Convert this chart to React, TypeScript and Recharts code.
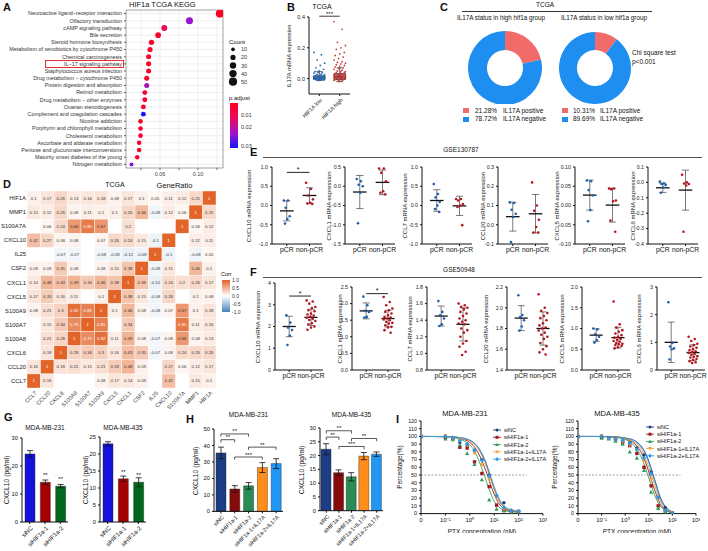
import React from "react";
import {
  ScatterChart, Scatter, ComposedChart, BarChart, Bar, Line, PieChart, Pie, Cell,
  XAxis, YAxis, CartesianGrid, ReferenceLine, ReferenceArea, ErrorBar, LabelList,
} from "recharts";

const FONT = "'Liberation Sans', Arial, Helvetica, sans-serif";

// ---------- A: KEGG enrichment ----------
const PATHWAYS = [
  "Neuroactive ligand\u2212receptor interaction", "Olfactory transduction", "cAMP signaling pathway",
  "Bile secretion", "Steroid hormone biosynthesis", "Metabolism of xenobiotics by cytochrome P450",
  "Chemical carcinogenesis", "IL\u221217 signaling pathway", "Staphylococcus aureus infection",
  "Drug metabolism \u2212 cytochrome P450", "Protein digestion and absorption", "Retinol metabolism",
  "Drug metabolism \u2212 other enzymes", "Ovarian steroidogenesis", "Complement and coagulation cascades",
  "Nicotine addiction", "Porphyrin and chlorophyll metabolism", "Cholesterol metabolism",
  "Ascorbate and aldarate metabolism", "Pentose and glucuronate interconversions",
  "Maturity onset diabetes of the young", "Nitrogen metabolism",
];
const GENE_RATIO = [0.123, 0.091, 0.0645, 0.058, 0.051, 0.0495, 0.048, 0.048, 0.048, 0.046, 0.046,
  0.044, 0.044, 0.0425, 0.0425, 0.0395, 0.0395, 0.0395, 0.038, 0.038, 0.036, 0.03];
const GENE_COUNT = [50, 37, 26, 24, 21, 20, 19, 19, 19, 19, 19, 18, 18, 17, 17, 16, 16, 16, 15, 15, 15, 12];
const P_ADJUST = [0.0005, 0.021, 0.008, 0.003, 0.002, 0.003, 0.002, 0.002, 0.002, 0.003, 0.019,
  0.003, 0.003, 0.003, 0.03, 0.002, 0.002, 0.004, 0.002, 0.002, 0.002, 0.022];
const COUNT_LEGEND = [10, 20, 30, 40, 50];

// ---------- B: IL17A by HIF1A group ----------
const B_GROUPS = ["HIF1A low", "HIF1A high"];
const B_LOW = [0.17, 0.155, 0.12, 0.1, 0.085, 0.07, 0.06, 0.05, 0.045, 0.04, 0.04, 0.035, 0.03, 0.028,
  0.025, 0.022, 0.02, 0.018, 0.015, 0.013, 0.012, 0.01, 0.009, 0.008, 0.007, 0.006, 0.005, 0.004, 0.003,
  0.002, 0.001, 0, -0.001, -0.002, -0.003, -0.004, -0.005, -0.006, -0.008, -0.01, -0.012];
const B_HIGH = [0.37, 0.32, 0.235, 0.215, 0.2, 0.19, 0.17, 0.16, 0.15, 0.14, 0.13, 0.12, 0.11, 0.105,
  0.1, 0.095, 0.09, 0.085, 0.08, 0.075, 0.07, 0.065, 0.06, 0.055, 0.05, 0.045, 0.045, 0.04, 0.04, 0.035,
  0.032, 0.03, 0.028, 0.025, 0.022, 0.02, 0.018, 0.016, 0.014, 0.012, 0.01, 0.009, 0.008, 0.006, 0.005,
  0.004, 0.003, 0.002, 0.001, 0, -0.002, -0.004, -0.006, -0.008, -0.01, -0.012, -0.015, -0.018];
// whisker low, q1, median, q3, whisker high
const B_LOW_BOX = [-0.012, -0.004, 0.004, 0.018, 0.045];
const B_HIGH_BOX = [-0.02, -0.006, 0.01, 0.032, 0.07];

// ---------- C: donuts ----------
const C_LABELS = ["IL17A positive", "IL17A negative"];
const C_HIGH = [21.28, 78.72];
const C_LOW = [10.31, 89.69];

// ---------- D: correlation heatmap ----------
const D_GENES = ["HIF1A", "MMP1", "S100A7A", "CXCL10", "IL25", "CSF2", "CXCL1", "CXCL5", "S100A9",
  "S100A7", "S100A8", "CXCL6", "CCL20", "CCL7"];
const D_COLS = [...D_GENES].reverse();
const D_CORR: (number | null)[][] = [
  [0.1, 0.17, 0.26, 0.13, 0.16, 0.18, 0.08, 0.17, 0.1, 0.05, 0.11, 0.12, 0.25, 1],
  [0.15, 0.12, 0.26, 0.08, 0.11, 0.1, 0.1, 0.26, 0.46, -0.08, 0.12, 0.06, 1, 0.25],
  [null, 0.06, 0.24, 0.66, 0.85, 0.67, null, 0.2, null, null, null, 1, 0.06, 0.12],
  [0.42, 0.27, 0.08, 0.08, null, 0.07, 0.26, 0.24, 0.15, -0.1, 1, null, 0.12, 0.11],
  [null, null, -0.07, -0.07, null, -0.08, -0.08, -0.12, -0.08, 1, -0.1, null, -0.08, 0.05],
  [0.09, 0.09, 0.35, 0.08, null, 0.08, 0.15, 0.38, 1, -0.08, 0.15, null, 0.46, 0.1],
  [0.14, 0.48, 0.43, 0.49, 0.34, 0.46, 0.38, 1, 0.38, -0.12, 0.24, 0.2, 0.26, 0.17],
  [0.17, 0.33, 0.16, 0.11, null, 0.1, 1, 0.38, 0.15, -0.08, 0.26, null, 0.1, 0.08],
  [0.08, 0.21, 0.3, 0.92, 0.81, 1, 0.1, 0.46, 0.08, -0.08, 0.07, 0.67, 0.1, 0.18],
  [null, 0.15, 0.34, 0.75, 1, 0.81, null, 0.34, null, null, null, 0.85, 0.11, 0.16],
  [null, 0.21, 0.28, 1, 0.75, 0.92, 0.11, 0.49, 0.08, -0.07, 0.08, 0.66, 0.08, 0.13],
  [null, 0.18, 1, 0.28, 0.34, 0.3, 0.16, 0.43, 0.35, -0.07, 0.08, 0.24, 0.26, 0.26],
  [0.16, 1, 0.18, 0.21, 0.15, 0.21, 0.33, 0.48, 0.09, null, 0.27, 0.06, 0.12, 0.17],
  [1, 0.16, null, null, null, 0.08, 0.17, 0.14, 0.09, null, 0.42, null, 0.15, 0.1],
];
const D_LEGEND = [1, 0.5, 0, -0.5, -1];

// ---------- E: GSE130787 ----------
const E_GENES = ["CXCL10", "CXCL1", "CCL7", "CCL20", "CXCL5", "CXCL6"];
const E_PCR = [
  [0.13, 0.13, -0.06, -0.28, -0.35, -0.47],
  [0.19, 0.13, 0.04, 0.0, -0.17, -0.96],
  [0.56, 0.3, 0.21, 0.09, 0, -0.09, -0.17],
  [0.116, 0.113, 0.078, 0.057, 0.04, -0.09],
  [0.065, 0.063, 0.04, 0.026, -0.012, -0.041],
  [0.005, -0.007, -0.01, -0.017, -0.033, -0.067],
];
const E_NON = [
  [0.59, 0.43, 0.26, 0.16, 0.07, 0.05, 0.04],
  [0.46, 0.46, 0.35, 0.13, -0.13, -0.17, -0.21],
  [0.17, 0.17, 0.13, 0.04, 0, -0.04, -0.51],
  [0.22, 0.1, 0.073, 0.026, -0.012, -0.04, -0.04],
  [0.044, 0.044, 0.042, 0.013, 0.011, -0.039, -0.068],
  [0.05, 0, -0.007, -0.01, -0.02, -0.32],
];
const E_MEAN = [[-0.14, 0.26], [-0.15, 0.1], [0.13, -0.01], [0.042, 0.057], [0.027, 0.001], [-0.035, -0.05]];
const E_SD = [[0.26, 0.2], [0.43, 0.32], [0.28, 0.25], [0.075, 0.1], [0.039, 0.044], [0.03, 0.13]];
const E_SIG = [0.86, null, null, null, null, null];
const E_TICKS = [[-1, -0.5, 0, 0.5, 1], [-1.5, -1, -0.5, 0, 0.5], [-1, -0.5, 0, 0.5, 1],
  [-0.1, 0, 0.1, 0.2, 0.3], [-0.1, -0.05, 0, 0.05, 0.1], [-0.4, -0.3, -0.2, -0.1, 0, 0.1]];
const E_DEC = [1, 1, 1, 1, 2, 1];

// ---------- F: GSE50948 ----------
const F_GENES = ["CXCL10", "CXCL1", "CCL7", "CCL20", "CXCL5", "CXCL6"];
const F_PCR = [
  [2.52, 2.18, 1.95, 1.84, 1.58, 1.15],
  [2.21, 1.95, 1.78, 1.75, 1.6, 1.58],
  [1.63, 1.5, 1.46, 1.42, 1.35, 1.33],
  [2.12, 1.93, 1.91, 1.88, 1.82, 1.78],
  [1.0, 0.98, 0.86, 0.8, 0.72, 0.66],
  [2.45, 0.98, 0.85, 0.78, 0.75, 0.38],
];
const F_NON = [
  [3.2, 3.15, 3.05, 2.9, 2.85, 2.75, 2.7, 2.6, 2.55, 2.5, 2.45, 2.4, 2.35, 2.3, 2.25, 2.15, 2.1, 2.0, 1.95, 1.85],
  [2.2, 2.05, 1.95, 1.85, 1.8, 1.75, 1.7, 1.65, 1.6, 1.58, 1.55, 1.52, 1.5, 1.45, 1.42, 1.4, 1.35, 1.3, 1.28, 1.2, 1.12],
  [1.6, 1.58, 1.56, 1.55, 1.53, 1.5, 1.48, 1.45, 1.42, 1.4, 1.38, 1.36, 1.35, 1.3, 1.28, 1.25, 1.2, 1.15, 1.12, 1.08, 1.02, 0.98],
  [2.13, 2.0, 1.97, 1.95, 1.92, 1.9, 1.88, 1.85, 1.83, 1.81, 1.8, 1.78, 1.76, 1.74, 1.72, 1.7, 1.66, 1.63, 1.6, 1.57, 1.55],
  [1.65, 1.1, 1.02, 0.96, 0.92, 0.88, 0.84, 0.8, 0.78, 0.75, 0.72, 0.7, 0.68, 0.65, 0.63, 0.62, 0.6, 0.58, 0.55, 0.52],
  [1.2, 1.12, 1.05, 0.95, 0.9, 0.85, 0.8, 0.75, 0.72, 0.68, 0.65, 0.62, 0.58, 0.55, 0.5, 0.48, 0.45, 0.4, 0.36, 0.32, 0.28, 0.25],
];
const F_MEAN = [[2.0, 2.42], [1.78, 1.55], [1.45, 1.35], [1.9, 1.8], [0.84, 0.78], [1.0, 0.63]];
const F_SD = [[0.47, 0.37], [0.24, 0.25], [0.12, 0.2], [0.12, 0.16], [0.15, 0.25], [0.73, 0.28]];
const F_SIG = [3.4, 2.3, null, null, null, null];
const F_TICKS = [[0, 1, 2, 3, 4], [0, 0.5, 1, 1.5, 2, 2.5], [0.8, 1, 1.2, 1.4, 1.6, 1.8],
  [1.4, 1.6, 1.8, 2, 2.2], [0, 0.5, 1, 1.5, 2], [0, 1, 2, 3]];
const F_DEC = [0, 1, 1, 1, 1, 0];

// ---------- G / H: ELISA ----------
const G_CATS = ["siNC", "siHIF1a-1", "siHIF1a-2"];
const G_231 = [24.3, 14.2, 12.8];
const G_231_SD = [1.2, 0.8, 0.6];
const G_435 = [23, 12.7, 11.7];
const G_435_SD = [0.6, 0.8, 1.3];
const G_SIG = ["", "**", "**"];
const H_CATS = ["siNC", "siHIF1a-1", "siHIF1a-2", "siHIF1a-1+IL17A", "siHIF1a-2+IL17A"];
const H_231 = [35.5, 13.6, 15.5, 26.6, 29];
const H_231_SD = [3.5, 2, 2, 3, 3];
const H_435 = [22.3, 13.8, 12.3, 19.8, 20.5];
const H_435_SD = [2, 1, 1.5, 1.3, 0.8];
// [from, to, y, label]
const H_231_SIG: [number, number, number, string][] = [[0, 2, 47, "**"], [0, 1, 43.5, "**"], [2, 4, 39, "**"], [1, 3, 33, "***"]];
const H_435_SIG: [number, number, number, string][] = [[0, 2, 29, "**"], [0, 1, 26.7, "**"], [2, 4, 26.2, "**"], [1, 3, 23.3, "***"]];

// ---------- I: PTX dose response ----------
const I_SERIES = ["siNC", "siHIF1a-1", "siHIF1a-2", "siHIF1a-1+IL17A", "siHIF1a-2+IL17A"];
const I_CONC = [0.01, 0.1, 0.2, 0.39, 0.78, 1.56, 3.13, 6.25, 12.5, 25, 50, 100];
const I_FIT_CONC = [0.01, 0.1, 0.3, 0.6, 1, 1.5, 2, 3, 4, 5, 7, 10, 15, 20, 30, 50, 100];
const I_231_PTS = [
  [100, 98, 97, 92, 89, 82, 70, 50, 23, 14, 4, 3],
  [100, 99, 97, 86, 85, 67, 52, 35, 11, 4, 3, 2],
  [100, 97, 96, 89, 78, 64, 44, 18, 6, 4, 2, 2],
  [100, 101, 97, 96, 89, 78, 63, 44, 21, 6, 3, 3],
  [100, 100, 98, 95, 90, 82, 69, 49, 23, 8, 4, 3],
];
const I_231_FIT = [
  [100, 99.9, 99, 97.5, 95, 91.5, 87.5, 78, 70, 62, 47, 32, 19, 12, 7, 4, 2.5],
  [100, 99.8, 98.5, 96, 92, 87, 81, 70, 60, 52, 38, 25, 14, 9, 5, 3, 2],
  [100, 99.5, 97.5, 94, 89, 82, 74, 60, 49, 40, 27, 16, 9, 6, 3.5, 2.5, 2],
  [100, 99.8, 98.8, 97, 94, 90, 85.5, 76, 67, 59, 45, 31, 18, 12, 7, 4, 3],
  [100, 99.8, 99, 97.5, 95, 91.5, 87.5, 79, 71, 63, 49, 35, 21, 14, 8, 5, 3],
];
const I_435_PTS = [
  [100, 99, 98, 97, 94, 92, 85, 76, 54, 21, 8, 1],
  [100, 99, 98, 96, 92, 88, 78, 60, 36, 10, 3, 1],
  [100, 98, 97, 94, 90, 80, 72, 56, 28, 7, 2, 0],
  [100, 101, 97, 96, 93, 89, 82, 68, 44, 19, 3, 1],
  [100, 100, 98, 96, 95, 91, 83, 72, 52, 21, 4, 1],
];
const I_435_FIT = [
  [100, 100, 99.5, 99, 98, 97, 96, 93, 90, 86.5, 79.5, 68, 51, 39, 22, 9, 2.5],
  [100, 99.9, 99.3, 98.5, 97, 95, 93, 88, 83, 78, 68, 54, 37, 26, 13, 5, 1.5],
  [100, 99.8, 99, 97.8, 96, 93.5, 90.5, 84, 78, 72, 60, 46, 30, 20, 10, 4, 1],
  [100, 99.9, 99.4, 98.7, 97.5, 96, 94, 90.5, 86.5, 82, 73, 60, 44, 32, 17, 7, 2],
  [100, 100, 99.5, 99, 98, 96.8, 95.3, 92.3, 89, 85, 78, 66, 49, 37, 20, 8, 2],
];

// ---------- styling helpers ----------
const BLUE_PT = "#1f5fae";
const RED_PT = "#b3181f";
const G_COLORS = ["#1212dc", "#a80000", "#00681f"];
const H_COLORS = ["#1c3d86", "#870b0b", "#2a8c55", "#ff8d1c", "#2196f3"];
const I_COLORS = ["#1c3f7c", "#9b1c1c", "#2e9e5b", "#f7a13a", "#2f97e8"];
const PIE_COLORS = ["#f26b6b", "#1e8ff0"];

const jit = (i: number, w: number) => ((((i * 7) % 11) - 5) / 5) * w;
const countR = (n: number) => Math.sqrt(n) * 0.58;
const mix = (a: number[], b: number[], t: number) =>
  `rgb(${a.map((v, k) => Math.round(v + (b[k] - v) * t)).join(",")})`;
function padjColor(p: number) {
  const t = Math.max(0, Math.min(1, p / 0.03));
  const stops: [number, number[]][] = [[0, [255, 0, 30]], [0.35, [232, 10, 100]], [0.7, [150, 20, 210]], [1, [20, 20, 255]]];
  for (let k = 0; k < stops.length - 1; k++) {
    const [t0, c0] = stops[k];
    const [t1, c1] = stops[k + 1];
    if (t <= t1) return mix(c0, c1, (t - t0) / (t1 - t0));
  }
  return "rgb(20,20,255)";
}
const corrColor = (v: number) =>
  v >= 0 ? mix([255, 255, 255], [226, 100, 40], v) : mix([255, 255, 255], [70, 130, 190], -v);

// tick renderer that never wraps text
const mkTick = (fmt: (v: any) => string, fs: number, kind: "y" | "x" | "rot", fill = "#222") => (p: any) => {
  const { x, y, payload } = p;
  const label = fmt(payload.value);
  if (kind === "y") return <text x={x} y={y} dy="0.35em" textAnchor="end" fontSize={fs} fill={fill}>{label}</text>;
  if (kind === "x") return <text x={x} y={y} dy="0.75em" textAnchor="middle" fontSize={fs} fill={fill}>{label}</text>;
  return <text x={x + 1} y={y} dy="0.6em" textAnchor="end" fontSize={fs} fill={fill} transform={`rotate(-45 ${x + 1} ${y})`}>{label}</text>;
};

const Txt = ({ x, y, s = 6.5, a = "start", w = 400, c = "#111", children }: any) => {
  const tx = a === "middle" ? "-50%" : a === "end" ? "-100%" : "0";
  return (
    <div style={{
      position: "absolute", left: x, top: y, fontSize: s, fontWeight: w, color: c, whiteSpace: "nowrap",
      lineHeight: 1, transform: `translate(${tx}, -50%)`,
    }}>{children}</div>
  );
};
const VLabel = ({ x, y, s = 6, children }: any) => (
  <div style={{
    position: "absolute", left: x, top: y, fontSize: s, whiteSpace: "nowrap", lineHeight: 1,
    transform: "translate(-50%, -50%) rotate(-90deg)", color: "#111",
  }}>{children}</div>
);
const Letter = ({ x, y, children }: any) => <Txt x={x} y={y} s={11} w={700}>{children}</Txt>;
const Abs = ({ x, y, children }: any) => <div style={{ position: "absolute", left: x, top: y }}>{children}</div>;

// ---------- Panels ----------
function PanelA() {
  const data = PATHWAYS.map((name, i) => ({ x: GENE_RATIO[i], y: i, count: GENE_COUNT[i], padj: P_ADJUST[i] }));
  return (
    <>
      <Letter x={3} y={7}>A</Letter>
      <Txt x={129} y={5} s={7.5}>HIF1a TCGA KEGG</Txt>
      <Abs x={0} y={0}>
        <ScatterChart width={226} height={190} margin={{ top: 10, right: 3, bottom: 0, left: 0 }}>
          <CartesianGrid stroke="#e4e4e4" strokeWidth={0.6} />
          <XAxis type="number" dataKey="x" domain={[0.0242, 0.1263]} allowDataOverflow
            ticks={[0.04, 0.06, 0.08, 0.1, 0.12]} interval={0}
            tick={mkTick((v: number) => (v === 0.06 || v === 0.1 ? v.toFixed(2) : ""), 5.5, "x", "#444")}
            tickSize={2} axisLine={false} height={22}
            label={{ value: "GeneRatio", position: "insideBottom", offset: 2, fontSize: 7.5, fill: "#111" }} />
          <YAxis type="number" dataKey="y" domain={[-0.5, 21.5]} allowDataOverflow reversed
            ticks={PATHWAYS.map((_, i) => i)} interval={0}
            tick={mkTick((i: number) => PATHWAYS[i] ?? "", 5.4, "y", "#333")}
            tickSize={2} axisLine={false} width={126} />
          <ReferenceArea x1={0.0242} x2={0.1263} y1={-0.5} y2={21.5} fill="none" stroke="#777"
            strokeWidth={0.6} ifOverflow="visible" />
          <Scatter data={data} dataKey="y" isAnimationActive={false}
            shape={(p: any) => <circle cx={p.cx} cy={p.cy} r={countR(p.payload.count)} fill={padjColor(p.payload.padj)} />} />
        </ScatterChart>
      </Abs>
      <div style={{ position: "absolute", left: 45, top: 60, width: 79, height: 8, border: "1px solid #e53030", boxSizing: "border-box" }} />
      <Txt x={229} y={42} s={6}>Count</Txt>
      <svg style={{ position: "absolute", left: 226, top: 44 }} width={30} height={42}>
        {COUNT_LEGEND.map((n, k) => (
          <g key={n}>
            <circle cx={7} cy={5.3 + k * 8.1} r={countR(n)} fill="#111" />
            <text x={15} y={7.3 + k * 8.1} fontSize={5.5} fill="#333">{n}</text>
          </g>
        ))}
      </svg>
      <Txt x={229} y={98} s={6}>p.adjust</Txt>
      <svg style={{ position: "absolute", left: 229, top: 102 }} width={28} height={50}>
        <defs>
          <linearGradient id="padj" x1="0" y1="0" x2="0" y2="1">
            <stop offset="0" stopColor={padjColor(0)} />
            <stop offset="0.35" stopColor={padjColor(0.0105)} />
            <stop offset="0.7" stopColor={padjColor(0.021)} />
            <stop offset="1" stopColor={padjColor(0.03)} />
          </linearGradient>
        </defs>
        <rect x={1} y={1} width={8} height={45} fill="url(#padj)" />
        {[0.01, 0.02, 0.03].map((v, k) => (
          <text key={v} x={12} y={[15, 27, 46][k]} fontSize={5.5} fill="#333">{v.toFixed(2)}</text>
        ))}
      </svg>
    </>
  );
}

function PanelB() {
  const low = B_LOW.map((v, i) => ({ x: 1 + jit(i, 0.26), y: v }));
  const high = B_HIGH.map((v, i) => ({ x: 2 + jit(i, 0.28), y: v }));
  const box = (g: number, b: number[], fill: string) => [
    <ReferenceLine key={`w${g}`} segment={[{ x: g, y: b[0] }, { x: g, y: b[4] }]} stroke="#111" strokeWidth={0.7} ifOverflow="visible" />,
    <ReferenceLine key={`c1${g}`} segment={[{ x: g - 0.15, y: b[0] }, { x: g + 0.15, y: b[0] }]} stroke="#111" strokeWidth={0.7} ifOverflow="visible" />,
    <ReferenceLine key={`c2${g}`} segment={[{ x: g - 0.15, y: b[4] }, { x: g + 0.15, y: b[4] }]} stroke="#111" strokeWidth={0.7} ifOverflow="visible" />,
    <ReferenceArea key={`b${g}`} x1={g - 0.28} x2={g + 0.28} y1={b[1]} y2={b[3]} fill={fill} fillOpacity={0.75} stroke="#111" strokeWidth={0.7} ifOverflow="visible" />,
    <ReferenceLine key={`m${g}`} segment={[{ x: g - 0.28, y: b[2] }, { x: g + 0.28, y: b[2] }]} stroke="#111" strokeWidth={1} ifOverflow="visible" />,
  ];
  return (
    <>
      <Letter x={287} y={7}>B</Letter>
      <Txt x={322} y={6} s={7} a="middle">TCGA</Txt>
      <VLabel x={290} y={56} s={5.8}>IL17A mRNA expression</VLabel>
      <Abs x={280} y={0}>
        <ComposedChart width={72} height={130} margin={{ top: 17, right: 2, bottom: 0, left: 0 }}>
          <XAxis type="number" dataKey="x" domain={[0.5, 2.5]} allowDataOverflow ticks={[1, 2]} interval={0}
            tick={mkTick((v: number) => B_GROUPS[v - 1] ?? "", 5.5, "rot")} tickSize={2} height={36} stroke="#111" />
          <YAxis type="number" dataKey="y" domain={[-0.1, 0.4]} allowDataOverflow
            ticks={[-0.1, 0, 0.1, 0.2, 0.3, 0.4]} tick={mkTick((v: number) => v.toFixed(1), 5.5, "y")}
            tickSize={2} width={29} stroke="#111" />
          <Scatter data={low} dataKey="y" isAnimationActive={false}
            shape={(p: any) => <circle cx={p.cx} cy={p.cy} r={0.9} fill="#2b6cb5" />} />
          <Scatter data={high} dataKey="y" isAnimationActive={false}
            shape={(p: any) => <circle cx={p.cx} cy={p.cy} r={0.9} fill="#c8403f" />} />
          {box(1, B_LOW_BOX, "#24589c")}
          {box(2, B_HIGH_BOX, "#b9342f")}
          <ReferenceLine segment={[{ x: 1, y: 0.405 }, { x: 2, y: 0.405 }]} stroke="#111" strokeWidth={0.8}
            ifOverflow="visible" label={{ value: "***", position: "top", offset: 0.5, fontSize: 6, fill: "#111" }} />
        </ComposedChart>
      </Abs>
    </>
  );
}

function PanelC() {
  const hi = C_LABELS.map((n, i) => ({ name: n, value: C_HIGH[i] }));
  const lo = C_LABELS.map((n, i) => ({ name: n, value: C_LOW[i] }));
  return (
    <>
      <Letter x={440} y={7}>C</Letter>
      <Txt x={545} y={5} s={6.5} a="middle">TCGA</Txt>
      <div style={{ position: "absolute", left: 462, top: 11, width: 190, height: 0, borderTop: "1px solid #333" }} />
      <Txt x={501} y={18} s={6.3} a="middle">IL17A status in high hif1a group</Txt>
      <Txt x={604} y={18} s={6.3} a="middle">IL17A status in low hif1a group</Txt>
      <Abs x={460} y={24}>
        <PieChart width={180} height={80}>
          <Pie data={hi} dataKey="value" cx={40} cy={39} innerRadius={18} outerRadius={37} startAngle={90}
            endAngle={-270} stroke="none" isAnimationActive={false}>
            {hi.map((_, i) => <Cell key={i} fill={PIE_COLORS[i]} />)}
          </Pie>
          <Pie data={lo} dataKey="value" cx={130} cy={39} innerRadius={18} outerRadius={36} startAngle={90}
            endAngle={-270} stroke="none" isAnimationActive={false}>
            {lo.map((_, i) => <Cell key={i} fill={PIE_COLORS[i]} />)}
          </Pie>
        </PieChart>
      </Abs>
      <Txt x={632} y={53} s={6.5}>Chi square test</Txt>
      <Txt x={632} y={62} s={6.5}>p&lt;0.001</Txt>
      {[C_HIGH, C_LOW].map((vals, col) =>
        vals.map((v, i) => (
          <React.Fragment key={`${col}-${i}`}>
            <div style={{ position: "absolute", left: col ? 562 : 463, top: 108 + i * 8.5, width: 6, height: 5, background: PIE_COLORS[i] }} />
            <Txt x={col ? 573 : 475} y={110.5 + i * 8.5} s={6.5}>{v.toFixed(2)}%</Txt>
            <Txt x={col ? 600 : 503} y={110.5 + i * 8.5} s={6.5}>{C_LABELS[i]}</Txt>
          </React.Fragment>
        ))
      )}
    </>
  );
}

function PanelD() {
  const cw = 189 / 14, ch = 197 / 14;
  const cells: any[] = [];
  D_CORR.forEach((row, i) => row.forEach((v, j) => { if (v !== null) cells.push({ x: j, y: i, v }); }));
  return (
    <>
      <Letter x={3} y={184}>D</Letter>
      <Txt x={115} y={184} s={7} a="middle">TCGA</Txt>
      <Abs x={0} y={181}>
        <ScatterChart width={216} height={229} margin={{ top: 10, right: 0, bottom: 0, left: 0 }}>
          <XAxis type="number" dataKey="x" domain={[-0.5, 13.5]} allowDataOverflow ticks={D_COLS.map((_, i) => i)}
            interval={0} tick={mkTick((i: number) => D_COLS[i] ?? "", 5.5, "rot", "#333")}
            tickSize={1} axisLine={false} tickLine={false} height={22} />
          <YAxis type="number" dataKey="y" domain={[-0.5, 13.5]} allowDataOverflow reversed
            ticks={D_GENES.map((_, i) => i)} interval={0} tick={mkTick((i: number) => D_GENES[i] ?? "", 5.9, "y")}
            tickSize={1} tickMargin={0} axisLine={false} tickLine={false} width={27} />
          <Scatter data={cells} dataKey="y" isAnimationActive={false}
            shape={(p: any) => {
              const v = p.payload.v;
              return (
                <g>
                  <rect x={p.cx - cw / 2} y={p.cy - ch / 2} width={cw} height={ch} fill={corrColor(v)} stroke="#fff" strokeWidth={0.4} />
                  <text x={p.cx} y={p.cy + 1.5} textAnchor="middle" fontSize={4.3} fill={v >= 0.7 ? "#fff" : "#333"}>{String(v)}</text>
                </g>
              );
            }} />
        </ScatterChart>
      </Abs>
      <Txt x={221} y={275} s={5.5}>Corr</Txt>
      <svg style={{ position: "absolute", left: 221, top: 278 }} width={26} height={38}>
        <defs>
          <linearGradient id="corr" x1="0" y1="0" x2="0" y2="1">
            <stop offset="0" stopColor={corrColor(1)} />
            <stop offset="0.5" stopColor="#fff" />
            <stop offset="1" stopColor={corrColor(-1)} />
          </linearGradient>
        </defs>
        <rect x={1} y={2} width={8} height={32} fill="url(#corr)" />
        {D_LEGEND.map((v, k) => (
          <text key={v} x={11} y={4 + k * 8} fontSize={5} fill="#333">{v.toFixed(1)}</text>
        ))}
      </svg>
    </>
  );
}

function DotPanel({ axisX, top, plotH, plotW, gene, a, b, mean, sd, sig, ticks, dec, labelOff }: any) {
  const YW = 26, XH = 14;
  const ptsA = a.map((v: number, i: number) => ({ x: 1 + jit(i, 0.13), y: v }));
  const ptsB = b.map((v: number, i: number) => ({ x: 2 + jit(i, b.length > 10 ? 0.2 : 0.15), y: v }));
  const domain = [ticks[0], ticks[ticks.length - 1]];
  const msd = (g: number, m: number, s: number) => [
    <ReferenceLine key={`s${g}`} segment={[{ x: g, y: m - s }, { x: g, y: m + s }]} stroke="#444" strokeWidth={0.7} ifOverflow="visible" />,
    <ReferenceLine key={`t${g}`} segment={[{ x: g - 0.16, y: m + s }, { x: g + 0.16, y: m + s }]} stroke="#444" strokeWidth={0.7} ifOverflow="visible" />,
    <ReferenceLine key={`b${g}`} segment={[{ x: g - 0.16, y: m - s }, { x: g + 0.16, y: m - s }]} stroke="#444" strokeWidth={0.7} ifOverflow="visible" />,
    <ReferenceLine key={`m${g}`} segment={[{ x: g - 0.3, y: m }, { x: g + 0.3, y: m }]} stroke="#111" strokeWidth={1.3} ifOverflow="visible" />,
  ];
  return (
    <>
      <VLabel x={axisX - labelOff} y={top + plotH / 2} s={6}>{gene} mRNA expression</VLabel>
      <Abs x={axisX - YW} y={top - 7}>
        <ComposedChart width={YW + plotW + 3} height={7 + plotH + XH} margin={{ top: 7, right: 3, bottom: 0, left: 0 }}>
          <XAxis type="number" dataKey="x" domain={[0.35, 2.55]} allowDataOverflow ticks={[1, 2]} interval={0}
            tick={mkTick((v: number) => (v === 1 ? "pCR" : "non-pCR"), 6.8, "x", "#111")}
            tickSize={2} tickMargin={1} height={XH} stroke="#111" />
          <YAxis type="number" dataKey="y" domain={domain} allowDataOverflow ticks={ticks} interval={0}
            tick={mkTick((v: number) => v.toFixed(dec), 5.3, "y")} tickSize={2} width={YW} stroke="#111" />
          <Scatter data={ptsA} dataKey="y" isAnimationActive={false}
            shape={(p: any) => <circle cx={p.cx} cy={p.cy} r={1.3} fill={BLUE_PT} />} />
          <Scatter data={ptsB} dataKey="y" isAnimationActive={false}
            shape={(p: any) => <circle cx={p.cx} cy={p.cy} r={1.3} fill={RED_PT} />} />
          {msd(1, mean[0], sd[0])}
          {msd(2, mean[1], sd[1])}
          {sig !== null && (
            <ReferenceLine segment={[{ x: 1, y: sig }, { x: 2, y: sig }]} stroke="#111" strokeWidth={0.9}
              ifOverflow="visible" label={{ value: "*", position: "top", offset: 0.5, fontSize: 7, fill: "#111" }} />
          )}
        </ComposedChart>
      </Abs>
    </>
  );
}

function PanelsEF() {
  const eX = [272, 345, 422, 498, 575, 648];
  const fX = [275, 352, 427, 507, 582, 657];
  const eLab = [23, 16, 17, 15, 18, 15];
  const fLab = [17, 12, 17, 21, 20, 18];
  return (
    <>
      <Letter x={250} y={152}>E</Letter>
      <Txt x={461} y={150} s={6.5} a="middle">GSE130787</Txt>
      <div style={{ position: "absolute", left: 263, top: 157, width: 439, height: 0, borderTop: "1px solid #555" }} />
      {E_GENES.map((g, k) => (
        <DotPanel key={`e${k}`} axisX={eX[k]} top={167} plotH={77} plotW={50} gene={g} a={E_PCR[k]} b={E_NON[k]}
          mean={E_MEAN[k]} sd={E_SD[k]} sig={E_SIG[k]} ticks={E_TICKS[k]} dec={E_DEC[k]} labelOff={eLab[k]} />
      ))}
      <Letter x={250} y={272}>F</Letter>
      <Txt x={459} y={270} s={6.5} a="middle">GSE50948</Txt>
      <div style={{ position: "absolute", left: 263, top: 277, width: 439, height: 0, borderTop: "1px solid #555" }} />
      {F_GENES.map((g, k) => (
        <DotPanel key={`f${k}`} axisX={fX[k]} top={k === 0 ? 283 : 287} plotH={k === 0 ? 87 : 83} plotW={48}
          gene={g} a={F_PCR[k]} b={F_NON[k]} mean={F_MEAN[k]} sd={F_SD[k]} sig={F_SIG[k]} ticks={F_TICKS[k]}
          dec={F_DEC[k]} labelOff={fLab[k]} />
      ))}
    </>
  );
}

function BarPanel({ axisX, top, plotH, plotW, xh, cats, vals, sds, colors, sigs, brackets, leg, ticks, title, titleY, labelX, fs }: any) {
  const YW = 24;
  const data = cats.map((c: string, i: number) => ({ name: c, v: vals[i], e: sds[i], s: sigs ? sigs[i] : "" }));
  return (
    <>
      <Txt x={axisX + plotW / 2} y={titleY} s={6.5} a="middle">{title}</Txt>
      <VLabel x={labelX} y={top + plotH / 2} s={6.8}>CXCL10 (pg/ml)</VLabel>
      <Abs x={axisX - YW} y={top - 8}>
        <BarChart data={data} width={YW + plotW + 2} height={8 + plotH + xh} margin={{ top: 8, right: 2, bottom: 0, left: 0 }}
          barCategoryGap="28%">
          <XAxis dataKey="name" interval={0} tick={mkTick((v: string) => v, fs, "rot", "#111")}
            tickSize={2} height={xh} stroke="#111" />
          <YAxis type="number" domain={[ticks[0], ticks[ticks.length - 1]]} allowDataOverflow ticks={ticks} interval={0}
            tick={mkTick((v: number) => String(v), 5.8, "y", "#111")} tickSize={2} width={YW} stroke="#111" />
          <Bar dataKey="v" barSize={10} isAnimationActive={false} stroke="#222" strokeWidth={0.4}>
            {data.map((_: any, i: number) => <Cell key={i} fill={colors[i]} />)}
            <ErrorBar dataKey="e" width={3} stroke="#111" strokeWidth={0.8} direction="y" />
            {sigs && <LabelList dataKey="s" position="top" offset={5} fontSize={6} fill="#111" />}
          </Bar>
          {(brackets || []).map(([f, t, y, lab]: any, k: number) => [
            <ReferenceLine key={`h${k}`} segment={[{ x: cats[f], y }, { x: cats[t], y }]} stroke="#111" strokeWidth={0.7}
              ifOverflow="visible" label={{ value: lab, position: "top", offset: 0.5, fontSize: 6, fill: "#111" }} />,
            <ReferenceLine key={`l${k}`} segment={[{ x: cats[f], y }, { x: cats[f], y: y - leg }]} stroke="#111" strokeWidth={0.7} ifOverflow="visible" />,
            <ReferenceLine key={`r${k}`} segment={[{ x: cats[t], y }, { x: cats[t], y: y - leg }]} stroke="#111" strokeWidth={0.7} ifOverflow="visible" />,
          ])}
        </BarChart>
      </Abs>
    </>
  );
}

const Marker = ({ kind, cx, cy, color, s = 1.7 }: any) => {
  if (cx == null || cy == null) return null;
  if (kind === 0) return <circle cx={cx} cy={cy} r={s} fill={color} />;
  if (kind === 1) return <rect x={cx - s} y={cy - s} width={2 * s} height={2 * s} fill={color} />;
  if (kind === 2) return <polygon points={`${cx},${cy - s * 1.3} ${cx - s * 1.2},${cy + s} ${cx + s * 1.2},${cy + s}`} fill={color} />;
  if (kind === 3) return <polygon points={`${cx},${cy + s * 1.3} ${cx - s * 1.2},${cy - s} ${cx + s * 1.2},${cy - s}`} fill={color} />;
  return <polygon points={`${cx},${cy - s * 1.4} ${cx + s * 1.2},${cy} ${cx},${cy + s * 1.4} ${cx - s * 1.2},${cy}`} fill={color} />;
};

const LOG_LABELS: Record<string, string> = { "0.01": "0", "0.1": "10\u207B\u00B9", "1": "10\u2070", "10": "10\u00B9", "100": "10\u00B2", "1000": "10\u00B3" };

function DosePanel({ axisX, plotW, title, titleOff, pts, fit, legX, legY, legStep, labelOff }: any) {
  const top = 420.7, plotH = 92.6, YW = 28, XH = 20;
  return (
    <>
      <Txt x={axisX + titleOff} y={414} s={7.5} a="middle">{title}</Txt>
      <VLabel x={axisX - labelOff} y={top + plotH / 2} s={6.5}>Percentage(%)</VLabel>
      <Abs x={axisX - YW} y={top - 8}>
        <ComposedChart width={YW + plotW + 4} height={8 + plotH + XH} margin={{ top: 8, right: 4, bottom: 0, left: 0 }}>
          <XAxis type="number" dataKey="x" scale="log" domain={[0.01, 1000]} allowDataOverflow
            ticks={[0.01, 0.1, 1, 10, 100, 1000]} interval={0}
            tick={mkTick((v: number) => LOG_LABELS[String(v)] ?? "", 6, "x", "#111")}
            tickSize={2} height={XH} stroke="#111"
            label={{ value: "PTX concentration (nM)", position: "insideBottom", offset: 0, fontSize: 6.5, fill: "#111" }} />
          <YAxis type="number" dataKey="y" domain={[0, 120]} allowDataOverflow
            ticks={[0, 10, 20, 30, 40, 50, 60, 70, 80, 90, 100, 110, 120]} interval={0}
            tick={mkTick((v: number) => String(v), 5.3, "y", "#111")} tickSize={2} width={YW} stroke="#111" />
          <ReferenceLine segment={[{ x: 0.01, y: 50 }, { x: 220, y: 50 }]} stroke="#777" strokeWidth={0.7}
            strokeDasharray="2 1.5" ifOverflow="visible" />
          {I_SERIES.map((s, k) => (
            <Line key={`l${s}`} data={I_FIT_CONC.map((c, j) => ({ x: c, y: fit[k][j] }))} dataKey="y" type="monotone"
              stroke={I_COLORS[k]} strokeWidth={0.9} dot={false} isAnimationActive={false} />
          ))}
          {I_SERIES.map((s, k) => (
            <Scatter key={`p${s}`} data={I_CONC.map((c, j) => ({ x: c, y: pts[k][j] }))} dataKey="y" isAnimationActive={false}
              shape={(p: any) => <Marker kind={k} cx={p.cx} cy={p.cy} color={I_COLORS[k]} />} />
          ))}
        </ComposedChart>
      </Abs>
      <svg style={{ position: "absolute", left: legX, top: legY }} width={70} height={42}>
        {I_SERIES.map((s, k) => (
          <g key={s}>
            <line x1={0} x2={8} y1={3 + k * legStep} y2={3 + k * legStep} stroke={I_COLORS[k]} strokeWidth={0.9} />
            <Marker kind={k} cx={4} cy={3 + k * legStep} color={I_COLORS[k]} s={1.5} />
            <text x={11} y={5 + k * legStep} fontSize={5.6} fill="#111">{s}</text>
          </g>
        ))}
      </svg>
    </>
  );
}

export default function App() {
  return (
    <div style={{ position: "absolute", left: 0, top: 0, width: 708, height: 551, overflow: "hidden", background: "#fff", fontFamily: FONT, color: "#111" }}>
      <PanelA />
      <PanelB />
      <PanelC />
      <PanelD />
      <PanelsEF />
      <Letter x={4} y={417}>G</Letter>
      <BarPanel axisX={22} top={438.3} plotH={84} plotW={46} xh={30} cats={G_CATS} vals={G_231} sds={G_231_SD}
        colors={G_COLORS} sigs={G_SIG} ticks={[0, 10, 20, 30]} title="MDA-MB-231" titleY={428} labelX={7} fs={6} />
      <BarPanel axisX={100} top={437.3} plotH={85} plotW={46} xh={30} cats={G_CATS} vals={G_435} sds={G_435_SD}
        colors={G_COLORS} sigs={G_SIG} ticks={[0, 5, 10, 15, 20, 25]} title="MDA-MB-435" titleY={428} labelX={86} fs={6} />
      <Letter x={186} y={419}>H</Letter>
      <BarPanel axisX={214} top={429.3} plotH={82.4} plotW={69} xh={40} cats={H_CATS} vals={H_231} sds={H_231_SD}
        colors={H_COLORS} brackets={H_231_SIG} leg={1.6} ticks={[0, 10, 20, 30, 40, 50]} title="MDA-MB-231"
        titleY={415} labelX={196} fs={5.5} />
      <BarPanel axisX={320} top={428.3} plotH={82.7} plotW={63} xh={40} cats={H_CATS} vals={H_435} sds={H_435_SD}
        colors={H_COLORS} brackets={H_435_SIG} leg={1} ticks={[0, 5, 10, 15, 20, 25, 30]} title="MDA-MB-435"
        titleY={415} labelX={302} fs={5.5} />
      <Letter x={396} y={419}>I</Letter>
      <DosePanel axisX={421} plotW={122} title="MDA-MB-231" titleOff={44} pts={I_231_PTS} fit={I_231_FIT}
        legX={493} legY={427} legStep={7.3} labelOff={21} />
      <DosePanel axisX={578} plotW={118} title="MDA-MB-435" titleOff={39} pts={I_435_PTS} fit={I_435_FIT}
        legX={646} legY={424} legStep={7.2} labelOff={23} />
    </div>
  );
}
